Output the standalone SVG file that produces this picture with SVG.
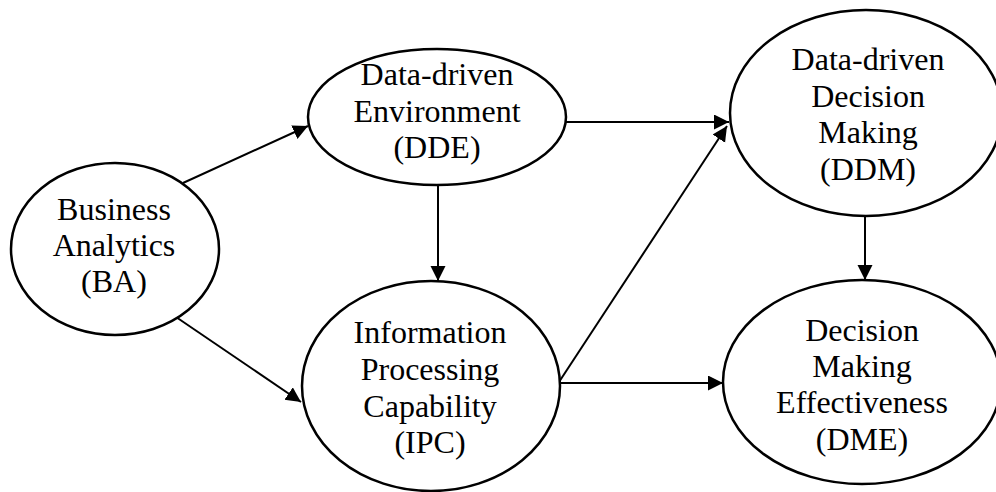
<svg xmlns="http://www.w3.org/2000/svg" width="996" height="492" viewBox="0 0 996 492">
  <style>
    .node ellipse { fill: #ffffff; stroke: #000000; stroke-width: 2.5; }
    .node text { font-family: "Liberation Serif", "Times New Roman", serif; font-size: 32px; fill: #000000; text-anchor: middle; }
    .edge { stroke: #000000; stroke-width: 2; fill: none; marker-end: url(#arrow); }
  </style>
  <defs>
    <marker id="arrow" markerUnits="userSpaceOnUse" markerWidth="16" markerHeight="16" refX="15" refY="7.5" orient="auto">
      <path d="M0,0 L15,7.5 L0,15 Z" fill="#000000"/>
    </marker>
  </defs>
  <rect width="996" height="492" fill="#ffffff"/>

  <!-- arrows between constructs -->
  <g id="connectors">
    <line class="edge" x1="183" y1="183" x2="308" y2="126"/>
    <line class="edge" x1="176" y1="317" x2="301" y2="402"/>
    <line class="edge" x1="438" y1="185" x2="438" y2="281"/>
    <line class="edge" x1="566" y1="122" x2="729" y2="122"/>
    <line class="edge" x1="559" y1="382" x2="727" y2="126"/>
    <line class="edge" x1="559" y1="383" x2="723" y2="383"/>
    <line class="edge" x1="865" y1="216" x2="865" y2="280"/>
  </g>

  <g id="BA" class="node">
    <ellipse cx="115" cy="249" rx="104" ry="86"/>
    <text x="114" y="220">Business</text>
    <text x="114" y="256">Analytics</text>
    <text x="114" y="292">(BA)</text>
  </g>

  <g id="DDE" class="node">
    <ellipse cx="437" cy="117" rx="129" ry="68"/>
    <text x="437" y="85">Data-driven</text>
    <text x="437" y="122">Environment</text>
    <text x="437" y="158">(DDE)</text>
  </g>

  <g id="IPC" class="node">
    <ellipse cx="431" cy="386" rx="129" ry="105"/>
    <text x="430" y="343">Information</text>
    <text x="430" y="380">Processing</text>
    <text x="430" y="417">Capability</text>
    <text x="430" y="453">(IPC)</text>
  </g>

  <g id="DDM" class="node">
    <ellipse cx="866" cy="113" rx="136" ry="103"/>
    <text x="868" y="70">Data-driven</text>
    <text x="868" y="107">Decision</text>
    <text x="868" y="143">Making</text>
    <text x="868" y="180">(DDM)</text>
  </g>

  <g id="DME" class="node">
    <ellipse cx="862" cy="382" rx="139" ry="102"/>
    <text x="862" y="341">Decision</text>
    <text x="862" y="377">Making</text>
    <text x="862" y="413">Effectiveness</text>
    <text x="862" y="450">(DME)</text>
  </g>
</svg>
